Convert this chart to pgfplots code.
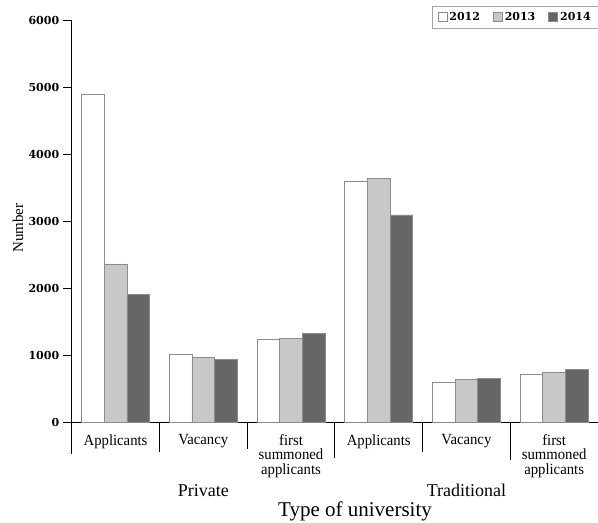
\documentclass[border=0pt]{standalone}
\usepackage{pgfplots}
\pgfplotsset{compat=1.18}
\usepackage{fontspec}
\setmainfont{Liberation Serif}
\newfontfamily\numfont{DejaVu Serif}
\newfontfamily\condfont{Liberation Serif}[FakeStretch=0.95]
\definecolor{c13}{HTML}{C8C8C8}
\definecolor{c14}{HTML}{666666}
\definecolor{edge}{HTML}{8C8C8C}
\begin{document}
\begin{tikzpicture}
\begin{axis}[
  scale only axis, width=526.3pt, height=402pt,
  xmin=-0.5, xmax=5.5, ymin=0, ymax=6000,
  axis x line=bottom, axis y line=left,
  axis line style={-, line width=1pt, black},
  ybar=0pt, bar width=22.7pt,
  clip=false,
  xtick={0,1,2,3,4,5},
  xticklabels={Applicants,Vacancy,{first\\summoned\\applicants},Applicants,Vacancy,{first\\summoned\\applicants}},
  xtick style={draw=none},
  xticklabel style={font=\condfont\fontsize{15.5}{14.5}\selectfont, align=center, anchor=north, inner sep=0pt, yshift=-2.5pt},
  ytick={0,1000,2000,3000,4000,5000,6000},
  ytick style={line width=1pt, black},
  tick align=outside, major tick length=9pt,
  yticklabel style={font=\numfont\bfseries\fontsize{11}{13}\selectfont},
  /pgf/number format/assume math mode=true,
  /pgf/number format/1000 sep={},
  scaled y ticks=false,
  ylabel={Number},
  ylabel style={font=\fontsize{15}{17}\selectfont, at={(axis description cs:0,0.484)}, yshift=53.7pt, anchor=center},
  legend style={at={(rel axis cs:1,1)}, anchor=north east, yshift=14.7pt, draw=gray!70,
    font=\numfont\bfseries\fontsize{11}{12}\selectfont, inner xsep=5pt, inner ysep=4pt,
    /tikz/every even column/.append style={column sep=11pt}},
  legend columns=3,
  legend image code/.code={\draw[#1] (0pt,-4.5pt) rectangle (9pt,4.5pt);},
]
\addplot[fill=white, draw=edge, line width=0.8pt] coordinates {(0,4900) (1,1015) (2,1245) (3,3600) (4,607) (5,727)};
\addplot[fill=c13, draw=edge, line width=0.8pt] coordinates {(0,2370) (1,975) (2,1260) (3,3650) (4,652) (5,751)};
\addplot[fill=c14, draw=edge, line width=0.8pt] coordinates {(0,1920) (1,940) (2,1330) (3,3100) (4,667) (5,801)};
\legend{2012,2013,2014}
\draw[line width=1pt] (axis cs:-0.5,0) -- ([yshift=-31.3pt]axis cs:-0.5,0);
\draw[line width=1pt] (axis cs:0.5,0) -- ([yshift=-29.3pt]axis cs:0.5,0);
\draw[line width=1pt] (axis cs:1.5,0) -- ([yshift=-26.3pt]axis cs:1.5,0);
\draw[line width=1pt] (axis cs:2.5,0) -- ([yshift=-35.3pt]axis cs:2.5,0);
\draw[line width=1pt] (axis cs:3.5,0) -- ([yshift=-29.3pt]axis cs:3.5,0);
\draw[line width=1pt] (axis cs:4.5,0) -- ([yshift=-37.3pt]axis cs:4.5,0);
\node[anchor=base, font=\fontsize{18}{20}\selectfont] at ([yshift=-74.3pt]axis cs:1,0) {Private};
\node[anchor=base, font=\fontsize{18}{20}\selectfont] at ([yshift=-74.3pt]axis cs:4,0) {Traditional};
\node[anchor=base, font=\fontsize{21}{24}\selectfont] at ([yshift=-94.3pt]axis cs:2.73,0) {Type of university};
\coordinate (O) at (rel axis cs:0,0);
\coordinate (T) at (rel axis cs:1,1);
\end{axis}
\pgfresetboundingbox
\path ([shift={(-71.7pt,-100.3pt)}]O) rectangle ([shift={(0pt,20.7pt)}]T);
\end{tikzpicture}
\end{document}
